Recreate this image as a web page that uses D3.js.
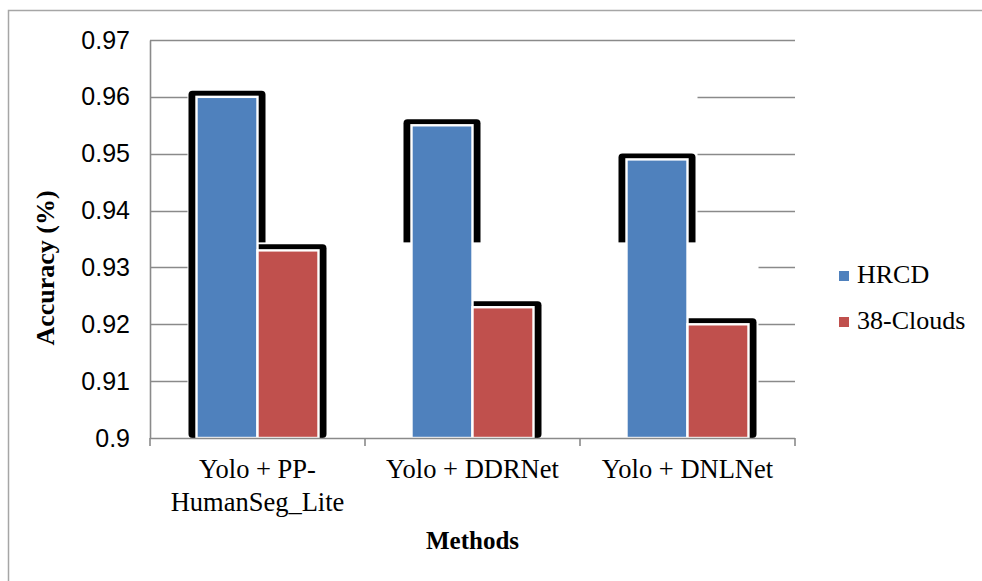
<!DOCTYPE html>
<html>
<head>
<meta charset="utf-8">
<script src="https://cdn.jsdelivr.net/npm/d3@7"></script>
<style>
  html, body { margin: 0; padding: 0; background: #fff; }
  svg { display: block; }
</style>
</head>
<body>
<svg id="chart" width="982" height="581"></svg>
<script>
// Accuracy of each detection + segmentation pipeline on two datasets
const categories = ["Yolo + PP-HumanSeg_Lite", "Yolo + DDRNet", "Yolo + DNLNet"];
const categoryLines = [["Yolo + PP-", "HumanSeg_Lite"], ["Yolo + DDRNet"], ["Yolo + DNLNet"]];
const seriesNames = ["HRCD", "38-Clouds"];
const hrcdValues = [0.960, 0.955, 0.949];
const cloudsValues = [0.933, 0.923, 0.920];
const yTickValues = [0.90, 0.91, 0.92, 0.93, 0.94, 0.95, 0.96, 0.97];
const yTickLabels = ["0.9", "0.91", "0.92", "0.93", "0.94", "0.95", "0.96", "0.97"];
const seriesColors = ["#4F81BD", "#C0504D"];
const seriesValues = [hrcdValues, cloudsValues];

const svg = d3.select("#chart");
const W = 982, H = 581;
const plot = { left: 150, right: 795, top: 40, bottom: 438 };
const gridColor = "#8a8a8a";
const serif = "'Liberation Serif', 'Times New Roman', serif";
const sans = "'Liberation Sans', Arial, sans-serif";

svg.append("rect").attr("width", W).attr("height", H).attr("fill", "#fff");
// outer chart frame
svg.append("rect")
  .attr("x", 8.5).attr("y", 10.5).attr("width", W + 20).attr("height", H + 20)
  .attr("fill", "none").attr("stroke", "#a6a6a6").attr("stroke-width", 1.5);

const y = d3.scaleLinear().domain([0.90, 0.97]).range([plot.bottom, plot.top]);
const x0 = d3.scaleBand().domain(categories).range([plot.left, plot.right]).padding(0);
const groupW = 122;
const x1 = d3.scaleBand().domain(seriesNames)
  .range([(x0.bandwidth() - groupW) / 2, (x0.bandwidth() + groupW) / 2]).padding(0);

// horizontal gridlines
svg.append("g").selectAll("line")
  .data(yTickValues.filter(v => v > 0.90))
  .join("line")
  .attr("x1", plot.left).attr("x2", plot.right)
  .attr("y1", d => Math.round(y(d)) + 0.5).attr("y2", d => Math.round(y(d)) + 0.5)
  .attr("stroke", gridColor).attr("stroke-width", 1.6);

// per-series shadow layers: a white backdrop spanning the series, then dark halos
const padL = 8, padR = 8, padT = 6;
seriesNames.forEach((s, si) => {
  const vals = seriesValues[si];
  const g = svg.append("g");
  const xs = categories.map(c => x0(c) + x1(s));
  const minX = d3.min(xs) - padL - 1;
  const maxX = d3.max(xs) + x1.bandwidth() + padR + 2;
  const topY = y(d3.max(vals)) - padT - 2;
  g.append("rect")
    .attr("x", minX).attr("y", topY)
    .attr("width", maxX - minX).attr("height", plot.bottom - topY)
    .attr("fill", "#fff");
  g.selectAll("rect.halo")
    .data(vals)
    .join("rect")
    .attr("class", "halo")
    .attr("x", (d, i) => xs[i] - padL)
    .attr("y", d => y(d) - padT)
    .attr("width", x1.bandwidth() + padL + padR)
    .attr("height", d => plot.bottom - y(d) + padT)
    .attr("rx", 4)
    .attr("fill", "#000");
});

// bars
seriesNames.forEach((s, si) => {
  svg.append("g").selectAll("rect")
    .data(seriesValues[si])
    .join("rect")
    .attr("x", (d, i) => x0(categories[i]) + x1(s))
    .attr("y", d => y(d))
    .attr("width", x1.bandwidth())
    .attr("height", d => plot.bottom - y(d))
    .attr("fill", seriesColors[si])
    .attr("stroke", "#fff")
    .attr("stroke-width", 2.4);
});

// y axis
const yAxis = svg.append("g")
  .attr("transform", `translate(${plot.left},0)`)
  .call(d3.axisLeft(y).tickValues(yTickValues)
    .tickFormat((d, i) => yTickLabels[i]).tickSize(0).tickPadding(20));
yAxis.select(".domain").attr("stroke", gridColor).attr("stroke-width", 1.6);
yAxis.selectAll("text")
  .attr("font-family", sans).attr("font-size", 25).attr("fill", "#000");

// x axis baseline and category boundary ticks
svg.append("line")
  .attr("x1", plot.left).attr("x2", plot.right)
  .attr("y1", plot.bottom + 0.5).attr("y2", plot.bottom + 0.5)
  .attr("stroke", gridColor).attr("stroke-width", 1.6);
const bounds = categories.map(c => x0(c)).concat([x0(categories[categories.length - 1]) + x0.bandwidth()]);
svg.append("g").selectAll("line")
  .data(bounds)
  .join("line")
  .attr("x1", d => d).attr("x2", d => d)
  .attr("y1", plot.bottom).attr("y2", plot.bottom + 8)
  .attr("stroke", gridColor).attr("stroke-width", 1.6);

// category labels
const catG = svg.append("g");
categories.forEach((c, i) => {
  const t = catG.append("text")
    .attr("x", x0(c) + x0.bandwidth() / 2)
    .attr("y", 478)
    .attr("text-anchor", "middle")
    .attr("font-family", serif).attr("font-size", 26.5).attr("fill", "#000");
  categoryLines[i].forEach((line, li) => {
    t.append("tspan").attr("x", x0(c) + x0.bandwidth() / 2)
      .attr("dy", li === 0 ? 0 : 33).text(line);
  });
});

// axis titles
svg.append("text")
  .attr("x", (plot.left + plot.right) / 2).attr("y", 549)
  .attr("text-anchor", "middle")
  .attr("font-family", serif).attr("font-weight", "bold").attr("font-size", 25)
  .text("Methods");
svg.append("text")
  .attr("transform", `translate(54, ${(plot.top + plot.bottom) / 2 + 29}) rotate(-90)`)
  .attr("text-anchor", "middle")
  .attr("font-family", serif).attr("font-weight", "bold").attr("font-size", 26)
  .text("Accuracy (%)");

// legend
const legend = svg.append("g").attr("transform", "translate(839,271)");
seriesNames.forEach((s, i) => {
  const row = legend.append("g").attr("transform", `translate(0,${i * 46})`);
  row.append("rect").attr("width", 10).attr("height", 10).attr("fill", seriesColors[i]);
  row.append("text").attr("x", 18).attr("y", 12)
    .attr("font-family", serif).attr("font-size", 26).attr("fill", "#000").text(s);
});
</script>
</body>
</html>
